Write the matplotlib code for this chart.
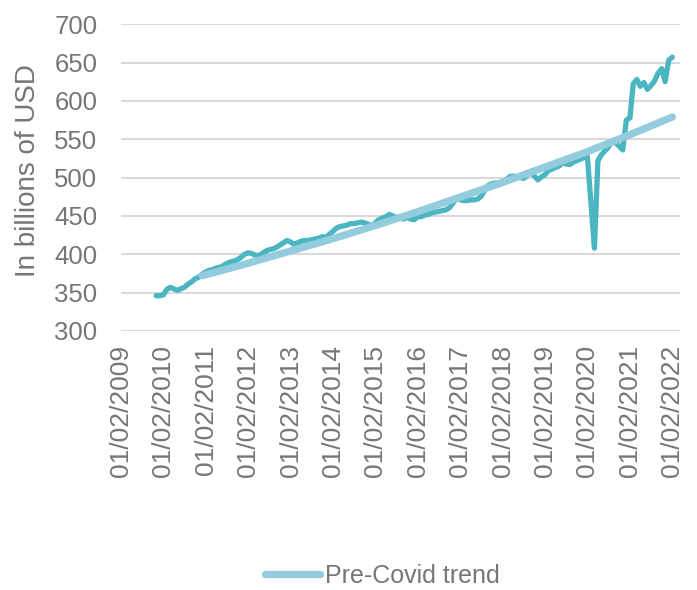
import matplotlib
matplotlib.use("Agg")
import matplotlib.pyplot as plt
import matplotlib.dates as mdates
import pandas as pd

# monthly observed values, Dec 2009 .. Feb 2022 (billions of USD)
first_month = "2009-12-01"
actual = [
    346,                                                          # 2009-12
    346, 347, 354, 357, 355, 353, 355, 357, 361, 364, 368, 370,   # 2010
    374, 377, 379, 380, 382, 383, 385, 388, 390, 391, 393, 396,   # 2011
    400, 402, 401, 399, 398, 401, 404, 406, 407, 409, 412, 415,   # 2012
    418, 416, 413, 415, 417, 418, 418, 419, 420, 421, 423, 422,   # 2013
    426, 430, 434, 436, 437, 438, 440, 440, 441, 442, 441, 439,   # 2014
    437, 441, 445, 447, 449, 452, 450, 448, 447, 446, 448, 446,   # 2015
    445, 449, 449, 451, 452, 454, 455, 456, 457, 458, 461, 467,   # 2016
    473, 471, 470, 470, 471, 471, 472, 476, 484, 490, 492, 493,   # 2017
    492, 493, 497, 501, 502, 501, 500, 499, 503, 507, 502, 497,   # 2018
    501, 504, 509, 511, 513, 515, 519, 518, 517, 520, 522, 524,   # 2019
    526, 527, 470, 408, 522, 530, 535, 540, 548, 545, 541, 536,   # 2020
    575, 578, 622, 628, 619, 624, 615, 620, 626, 636, 642, 625,   # 2021
    653, 657,                                                     # 2022
]

# pre-Covid trend, read at yearly points
trend_dates = ["2011-01-01", "2012-01-01", "2013-01-01", "2014-01-01",
               "2015-01-01", "2016-01-01", "2017-01-01", "2018-01-01",
               "2019-01-01", "2020-01-01", "2021-01-01", "2022-02-01"]
trend_values = [372, 387, 403, 419, 436, 454, 473, 492, 512, 532, 554, 579]

tick_years = list(range(2009, 2023))
y_ticks = [300, 350, 400, 450, 500, 550, 600, 650, 700]

ACTUAL_COLOR = "#4BB5C1"
TREND_COLOR = "#93CDDD"
TEXT_COLOR = "#767676"
GRID_COLOR = "#D9D9D9"

plt.rcParams["font.family"] = ["Liberation Sans", "DejaVu Sans"]

months = pd.date_range(first_month, periods=len(actual), freq="MS")
trend_x = pd.to_datetime(trend_dates)

fig = plt.figure(figsize=(6.97, 5.90), dpi=100)
ax = fig.add_axes([0.1736, 0.439, 0.802, 0.520])

ax.plot(months, actual, color=ACTUAL_COLOR, lw=3.8, solid_capstyle="round",
        solid_joinstyle="round", label="_nolegend_", zorder=3)
ax.plot(trend_x, trend_values, color=TREND_COLOR, lw=5.3, solid_capstyle="round",
        label="Pre-Covid trend", zorder=4)

ax.set_ylim(300, 700)
ax.set_yticks(y_ticks)
ax.set_xlim(pd.Timestamp("2009-02-01"), pd.Timestamp("2022-04-08"))
ax.set_xticks([pd.Timestamp(f"{y}-02-01") for y in tick_years])
ax.xaxis.set_major_formatter(mdates.DateFormatter("%d/%m/%Y"))

ax.grid(axis="y", color=GRID_COLOR, lw=1.5, zorder=0)
for s in ax.spines.values():
    s.set_visible(False)
ax.tick_params(axis="y", length=0, pad=17, labelsize=18.5, labelcolor=TEXT_COLOR)
ax.tick_params(axis="x", length=0, pad=10, labelsize=19, labelcolor=TEXT_COLOR,
               labelrotation=90)

fig.text(28 / 697, 1 - 171 / 590, "In billions of USD", rotation=90,
         ha="center", va="center", fontsize=20, color=TEXT_COLOR)

fig.legend(loc="center", bbox_to_anchor=(0.548, 1 - 576 / 590), frameon=False,
           fontsize=18, labelcolor=TEXT_COLOR, handlelength=2.2,
           handletextpad=0.2)

fig.savefig("out.png", dpi=100)
